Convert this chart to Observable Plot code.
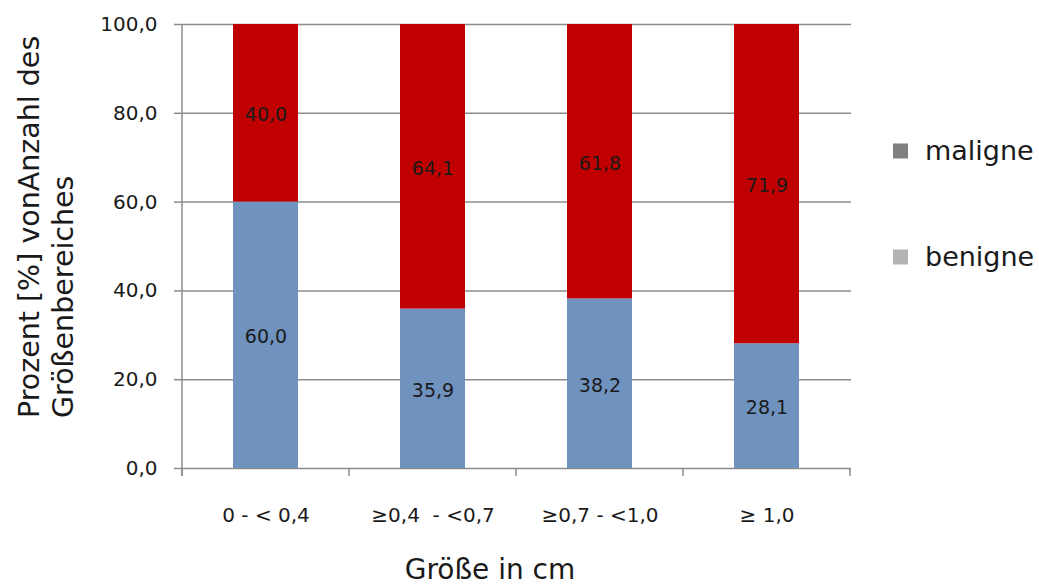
<!DOCTYPE html>
<html>
<head>
<meta charset="utf-8">
<script src="https://cdn.jsdelivr.net/npm/d3@7"></script>
<script src="https://cdn.jsdelivr.net/npm/@observablehq/plot@0.6"></script>
<style>
  body { margin: 0; background: #fff; }
  svg { display: block; }
</style>
</head>
<body>
<div id="chart"></div>
<script>
// Size classes (cm) and share of benign / malignant findings per class (%)
const categories = ["0 - < 0,4", "≥0,4  - <0,7", "≥0,7 - <1,0", "≥ 1,0"];
const series = ["benigne", "maligne"];
const benigne = [60.0, 35.9, 38.2, 28.1];
const maligne = [40.0, 64.1, 61.8, 71.9];
const yTicks = [0, 20, 40, 60, 80, 100];
const barColors = ["#7092be", "#c00000"];
const legendItems = ["maligne", "benigne"];
const legendColors = ["#808080", "#b4b4b4"];
const yTitle = ["Prozent [%] vonAnzahl des", "Größenbereiches"];
const xTitle = "Größe in cm";

// Long table: benign rows first so they stack at the bottom
const rows = [];
categories.forEach((c, i) => {
  rows.push({cat: c, series: "benigne", value: benigne[i]});
  rows.push({cat: c, series: "maligne", value: maligne[i]});
});
const fmt = v => v.toFixed(1).replace(".", ",");
const grid = "#8c8c8c";
const ink = "#1a1a1a";

const plot = Plot.plot({
  width: 1039,
  height: 585,
  marginLeft: 182,
  marginRight: 188,
  marginTop: 24,
  marginBottom: 117,
  style: {fontFamily: "DejaVu Sans", fontSize: "20px", color: ink, background: "#fff"},
  x: {domain: categories, paddingInner: 0.61, paddingOuter: 0.305, label: null},
  y: {domain: [0, 100], label: null},
  color: {domain: series, range: barColors},
  marks: [
    Plot.ruleY(yTicks, {stroke: grid, strokeWidth: 1.5}),
    Plot.barY(rows, Plot.stackY({x: "cat", y: "value", z: "series", fill: "series"})),
    Plot.text(rows, Plot.stackY({
      x: "cat", y: "value", z: "series",
      text: d => fmt(d.value), fill: ink, fontSize: 19, dy: 2
    })),
    Plot.axisY({ticks: yTicks, tickFormat: fmt, tickSize: 8, tickPadding: 17,
                stroke: grid, strokeWidth: 1.5, fontSize: 20}),
    Plot.axisX({tickSize: 0, tickPadding: 39, fontSize: 20})
  ]
});

document.getElementById("chart").append(plot);

// Axis line and category boundary ticks
const svg = d3.select(plot);
const xs = plot.scale("x");
const ys = plot.scale("y");
const x0 = xs.range[0];
const yTop = ys.apply(100);
const yBase = ys.apply(0);
const deco = svg.append("g").attr("stroke", grid).attr("stroke-width", 1.5);
deco.append("line").attr("x1", x0).attr("x2", x0).attr("y1", yTop).attr("y2", yBase + 8);
d3.range(categories.length + 1).forEach(i => {
  const x = x0 + i * xs.step;
  deco.append("line").attr("x1", x).attr("x2", x).attr("y1", yBase).attr("y2", yBase + 8);
});

// Axis titles
const titles = svg.append("g").attr("fill", ink).attr("font-family", "DejaVu Sans");
yTitle.forEach((t, i) => {
  titles.append("text")
    .attr("transform", `translate(${39 + i * 34},418) rotate(-90)`)
    .attr("text-anchor", "start")
    .attr("font-size", 28.5)
    .text(t);
});
titles.append("text")
  .attr("x", 490).attr("y", 579)
  .attr("text-anchor", "middle")
  .attr("font-size", 28)
  .text(xTitle);

// Legend
const legend = svg.append("g").attr("font-family", "DejaVu Sans");
legendItems.forEach((name, i) => {
  const cy = 151 + i * 106;
  legend.append("rect")
    .attr("x", 893).attr("y", cy - 7.5).attr("width", 15).attr("height", 15)
    .attr("fill", legendColors[i]);
  legend.append("text")
    .attr("x", 925).attr("y", cy).attr("dy", "0.35em")
    .attr("text-anchor", "start")
    .attr("font-size", 27).attr("fill", ink)
    .text(name);
});
</script>
</body>
</html>
